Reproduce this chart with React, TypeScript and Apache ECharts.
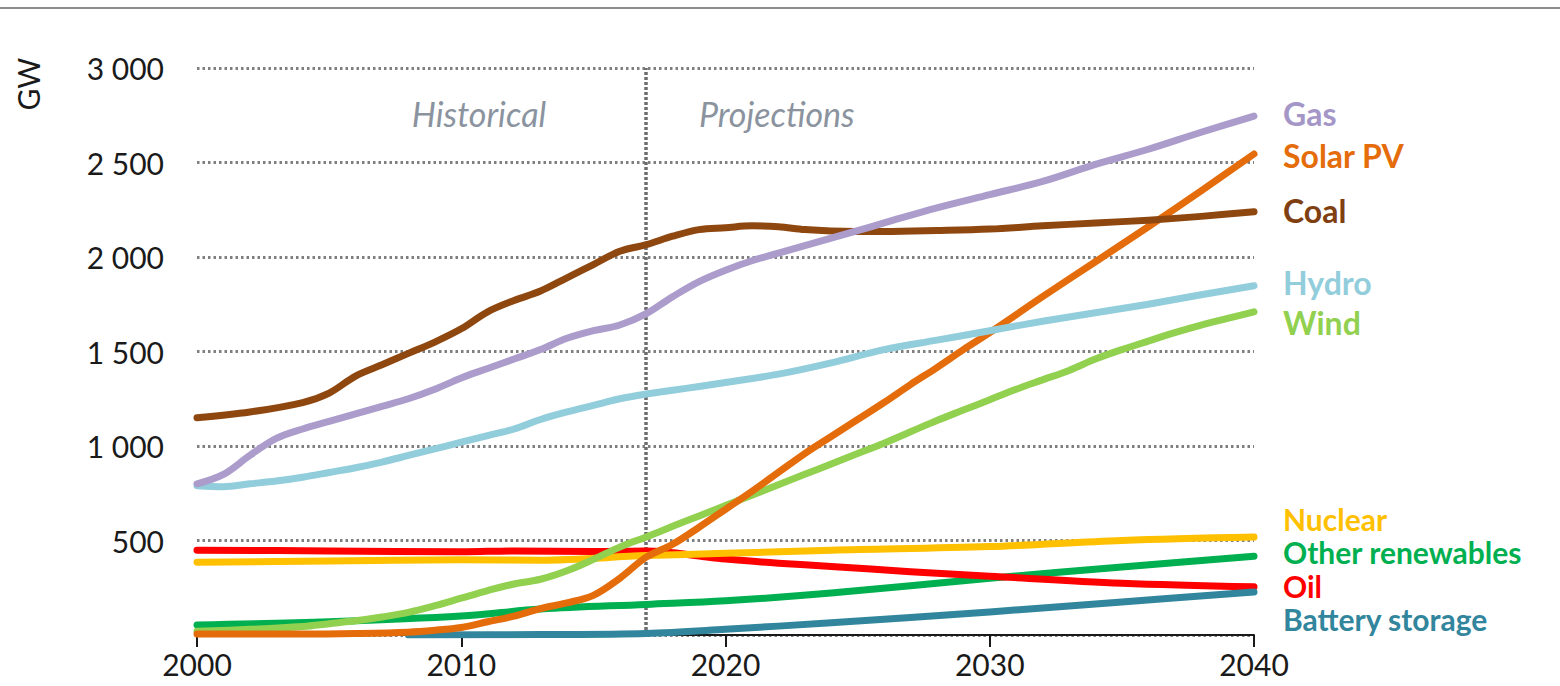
import React, { useEffect, useRef } from "react";
import * as echarts from "echarts";

const seriesNames = ["Gas", "Solar PV", "Coal", "Hydro", "Wind", "Nuclear", "Other renewables", "Oil", "Battery storage"];
const seriesColors = ["#ab9ccc", "#e46c0a", "#8f4710", "#92cddc", "#92d050", "#ffc000", "#00b050", "#ff0000", "#31859c"];
const labelColors = ["#a596c8", "#e46c0a", "#7f3f10", "#92cddc", "#92d050", "#ffc000", "#00b050", "#ff0000", "#31859c"];
const labelY = [113, 155, 210, 282, 322, 519, 552, 586, 619];

const gas: number[][] = [[2000,800],[2001,850],[2002,950],[2003,1040],[2004,1090],[2005,1130],[2006,1170],[2007,1210],[2008,1250],[2009,1300],[2010,1360],[2011,1410],[2012,1460],[2013,1510],[2014,1570],[2015,1610],[2016,1640],[2017,1700],[2018,1790],[2019,1870],[2020,1930],[2021,1980],[2022,2020],[2023,2060],[2024,2100],[2025,2140],[2026,2180],[2028,2260],[2030,2330],[2032,2400],[2034,2490],[2036,2570],[2038,2660],[2040,2745]];
const solarPV: number[][] = [[2000,5],[2004,5],[2006,8],[2008,15],[2009,25],[2010,40],[2011,70],[2012,100],[2013,140],[2014,170],[2015,210],[2016,300],[2017,412],[2018,480],[2019,570],[2020,665],[2021,760],[2022,860],[2023,960],[2024,1050],[2025,1140],[2026,1230],[2027,1325],[2028,1415],[2029,1510],[2030,1600],[2032,1790],[2034,1975],[2036,2160],[2038,2350],[2040,2545]];
const coal: number[][] = [[2000,1150],[2002,1180],[2004,1230],[2005,1280],[2006,1370],[2007,1430],[2008,1490],[2009,1550],[2010,1620],[2011,1710],[2012,1770],[2013,1820],[2014,1890],[2015,1960],[2016,2030],[2017,2065],[2018,2110],[2019,2145],[2020,2155],[2021,2165],[2022,2160],[2023,2145],[2024,2138],[2026,2135],[2028,2140],[2030,2148],[2032,2165],[2034,2180],[2036,2195],[2038,2215],[2040,2240]];
const hydro: number[][] = [[2000,790],[2001,785],[2002,800],[2003,815],[2004,835],[2005,860],[2006,885],[2007,915],[2008,950],[2009,985],[2010,1020],[2011,1055],[2012,1090],[2013,1140],[2014,1180],[2015,1215],[2016,1250],[2017,1275],[2018,1295],[2019,1315],[2020,1336],[2022,1380],[2024,1440],[2026,1510],[2028,1560],[2030,1610],[2032,1660],[2034,1705],[2036,1750],[2038,1800],[2040,1848]];
const wind: number[][] = [[2000,20],[2002,30],[2004,45],[2005,60],[2006,75],[2007,95],[2008,120],[2009,155],[2010,195],[2011,235],[2012,270],[2013,295],[2014,340],[2015,400],[2016,465],[2017,519],[2018,575],[2019,630],[2020,685],[2021,740],[2022,795],[2023,850],[2024,905],[2025,960],[2026,1015],[2027,1075],[2028,1135],[2029,1190],[2030,1245],[2031,1300],[2032,1350],[2033,1400],[2034,1460],[2035,1510],[2036,1555],[2037,1600],[2038,1640],[2039,1675],[2040,1710]];
const nuclear: number[][] = [[2000,385],[2005,392],[2010,398],[2013,396],[2017,420],[2020,432],[2024,449],[2030,468],[2035,500],[2040,518]];
const otherRenewables: number[][] = [[2000,53],[2005,70],[2010,100],[2013,137],[2017,162],[2020,181],[2024,222],[2030,300],[2035,360],[2040,417]];
const oil: number[][] = [[2000,449],[2005,445],[2010,440],[2012,445],[2015,442],[2017,445],[2018,435],[2019,418],[2020,402],[2022,380],[2024,363],[2027,335],[2030,311],[2035,274],[2040,255]];
const batteryStorage: number[][] = [[2008,0],[2013,2],[2017,8],[2020,30],[2024,65],[2030,122],[2035,175],[2040,227]];

const seriesData = [gas, solarPV, coal, hydro, wind, nuclear, otherRenewables, oil, batteryStorage];
const drawOrder = [6, 7, 5, 8, 4, 1, 3, 2, 0];

const yearTicks = { min: 2000, max: 2040, interval: 10 };
const valueTicks = { min: 0, max: 3000, interval: 500 };
const divideYear = 2017;
const periodLabels = ["Historical", "Projections"];

const FONT = "Lato, 'Open Sans', sans-serif";

function fmt(v: number): string {
  if (v === 0) return "";
  if (v >= 1000) return `${Math.floor(v / 1000)} ${String(v % 1000).padStart(3, "0")}`;
  return String(v);
}

export default function App() {
  const ref = useRef<HTMLDivElement>(null);
  useEffect(() => {
    if (!ref.current) return;
    const chart = echarts.init(ref.current, undefined, { renderer: "svg" });
    const series: any[] = drawOrder.map((i, k) => ({
      type: "line",
      name: seriesNames[i],
      data: seriesData[i],
      smooth: 0.35,
      showSymbol: false,
      symbol: "none",
      lineStyle: { color: seriesColors[i], width: 7, cap: "round", join: "round" },
      itemStyle: { color: seriesColors[i] },
      z: 3 + k,
      ...(k === 0
        ? {
            markLine: {
              silent: true,
              symbol: "none",
              label: { show: false },
              lineStyle: { color: "#6e6e6e", width: 3.5, type: [3, 2] },
              data: [{ xAxis: divideYear }],
              z: 1,
            },
          }
        : {}),
    }));
    const labels = seriesNames.map((n, i) => ({
      type: "text",
      x: 1283,
      y: labelY[i],
      style: {
        text: n,
        fill: labelColors[i],
        font: `bold ${i >= 5 ? 30 : 32}px ${FONT}`,
        lineHeight: 28,
        textVerticalAlign: "middle",
      },
    }));
    chart.setOption({
      animation: false,
      backgroundColor: "#ffffff",
      grid: { left: 197, right: 306, top: 68, bottom: 51, containLabel: false, outerBoundsMode: "none" },
      xAxis: {
        type: "value",
        min: yearTicks.min,
        max: yearTicks.max,
        interval: yearTicks.interval,
        splitLine: { show: false },
        axisLine: { show: true, onZero: false, lineStyle: { color: "#1a1a1a", width: 2 } },
        axisTick: { show: true, length: 12, lineStyle: { color: "#1a1a1a", width: 2 } },
        axisLabel: { fontSize: 30, fontFamily: FONT, color: "#1a1a1a", margin: 14, formatter: (v: number) => String(v) },
      },
      yAxis: {
        type: "value",
        min: valueTicks.min,
        max: valueTicks.max,
        interval: valueTicks.interval,
        axisLine: { show: false },
        axisTick: { show: false },
        splitLine: { show: true, lineStyle: { color: "#7f7f7f", width: 3, type: [2.5, 3] } },
        axisLabel: { fontSize: 30, fontFamily: FONT, color: "#1a1a1a", margin: 33, formatter: fmt },
      },
      graphic: [
        { type: "line", shape: { x1: 0, y1: 8, x2: 1560, y2: 8 }, style: { stroke: "#8c8c8c", lineWidth: 2 } },
        {
          type: "text",
          x: 28,
          y: 84,
          rotation: Math.PI / 2,
          style: { text: "GW", font: `30px ${FONT}`, fill: "#1a1a1a", textAlign: "center", textVerticalAlign: "middle" },
        },
        {
          type: "text",
          x: 479,
          y: 113,
          style: { text: periodLabels[0], font: `italic 34px ${FONT}`, fill: "#8a939e", textAlign: "center", textVerticalAlign: "middle" },
        },
        {
          type: "text",
          x: 699,
          y: 113,
          style: { text: periodLabels[1], font: `italic 34px ${FONT}`, fill: "#8a939e", textAlign: "left", textVerticalAlign: "middle" },
        },
        ...labels,
      ],
      series,
    });
    return () => chart.dispose();
  }, []);
  return <div ref={ref} style={{ position: "absolute", left: 0, top: 0, width: 1560, height: 686 }} />;
}
